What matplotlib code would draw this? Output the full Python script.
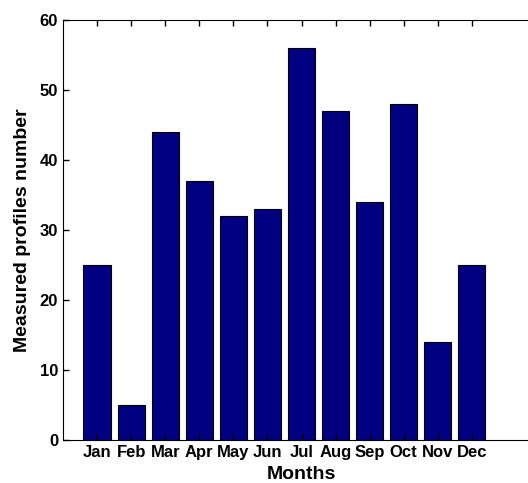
import numpy as np
import matplotlib.pyplot as plt

# data
months = ['Jan', 'Feb', 'Mar', 'Apr', 'May', 'Jun',
          'Jul', 'Aug', 'Sep', 'Oct', 'Nov', 'Dec']
profiles = [25, 5, 44, 37, 32, 33, 56, 47, 34, 48, 14, 25]

plt.rcParams['font.family'] = ['Liberation Sans', 'DejaVu Sans']
plt.rcParams['font.weight'] = 'bold'

fig = plt.figure(figsize=(5.28, 4.83), dpi=100)
ax = fig.add_axes([63 / 528, 43 / 483, 477 / 528, 420 / 483])

x = np.arange(1, len(months) + 1)
ax.bar(x, profiles, width=0.8, color='#000080', edgecolor='black', linewidth=0.8)

ax.set_xlim(0, 14)
ax.set_ylim(0, 60)
ax.set_xticks(x)
ax.set_xticklabels(months, fontsize=12, fontweight='bold')
ax.set_yticks(range(0, 61, 10))
ax.tick_params(axis='y', labelsize=12)
ax.tick_params(direction='in', top=True, right=True, length=4, width=1)
for lab in ax.get_yticklabels():
    lab.set_fontweight('bold')

ax.set_xlabel('Months', fontsize=14, fontweight='bold', labelpad=4.5)
ax.set_ylabel('Measured profiles number', fontsize=14, fontweight='bold', labelpad=6)

plt.savefig('out.png', dpi=100)
